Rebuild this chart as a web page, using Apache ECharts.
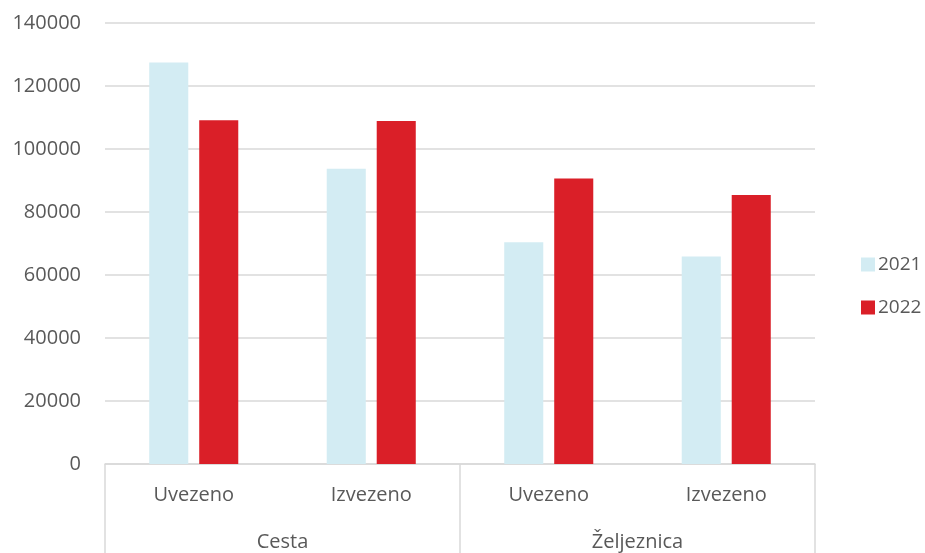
<!DOCTYPE html>
<html>
<head>
<meta charset="utf-8">
<script src="https://cdn.jsdelivr.net/npm/echarts@6/dist/echarts.min.js"></script>
<style>html,body{margin:0;padding:0;background:#fff}#c{width:925px;height:553px}</style>
</head>
<body>
<div id="c"></div>
<script>
const subCategories = ['Uvezeno', 'Izvezeno', 'Uvezeno', 'Izvezeno'];
const groupCategories = ['Cesta', 'Željeznica'];
const seriesNames = ['2021', '2022'];
const values2021 = [127500, 93700, 70400, 65900];
const values2022 = [109100, 108900, 90600, 85400];

const FONT = 'Open Sans';
const TXT = '#595959';
const LINE = '#D9D9D9';

const chart = echarts.init(document.getElementById('c'));
chart.setOption({
  animation: false,
  textStyle: { fontFamily: FONT },
  grid: { left: 105, right: 110, top: 23, bottom: 89 },
  legend: {
    orient: 'vertical',
    left: 856, top: 250,
    itemWidth: 14, itemHeight: 14, itemGap: 24,
    icon: 'rect',
    textStyle: { fontFamily: FONT, fontSize: 19, color: TXT, padding: [0, 0, 0, -2] },
    data: seriesNames
  },
  xAxis: [
    {
      type: 'category',
      data: subCategories,
      position: 'bottom',
      axisLine: { show: true, lineStyle: { color: LINE, width: 1.5 } },
      axisTick: { show: false },
      axisLabel: { color: TXT, fontSize: 20, fontFamily: FONT, margin: 21, interval: 0 }
    },
    {
      type: 'category',
      data: groupCategories,
      position: 'bottom',
      offset: 0,
      axisLine: { show: false },
      axisTick: { show: true, length: 95, interval: 0, lineStyle: { color: LINE, width: 1.5 } },
      axisLabel: { color: TXT, fontSize: 20, fontFamily: FONT, margin: 68, interval: 0 },
      splitLine: { show: false }
    }
  ],
  yAxis: {
    type: 'value',
    min: 0, max: 140000, interval: 20000,
    axisLine: { show: false },
    axisTick: { show: false },
    axisLabel: { color: TXT, fontSize: 20, fontFamily: FONT, margin: 24, formatter: v => String(v) },
    splitLine: { lineStyle: { color: LINE, width: 1.5 } }
  },
  series: [
    {
      name: seriesNames[0], type: 'bar', xAxisIndex: 0,
      data: values2021,
      barWidth: '22%', barGap: '28%',
      itemStyle: { color: '#D3ECF3' }
    },
    {
      name: seriesNames[1], type: 'bar', xAxisIndex: 0,
      data: values2022,
      barWidth: '22%', barGap: '28%',
      itemStyle: { color: '#DA1F28' }
    }
  ]
});
</script>
</body>
</html>
